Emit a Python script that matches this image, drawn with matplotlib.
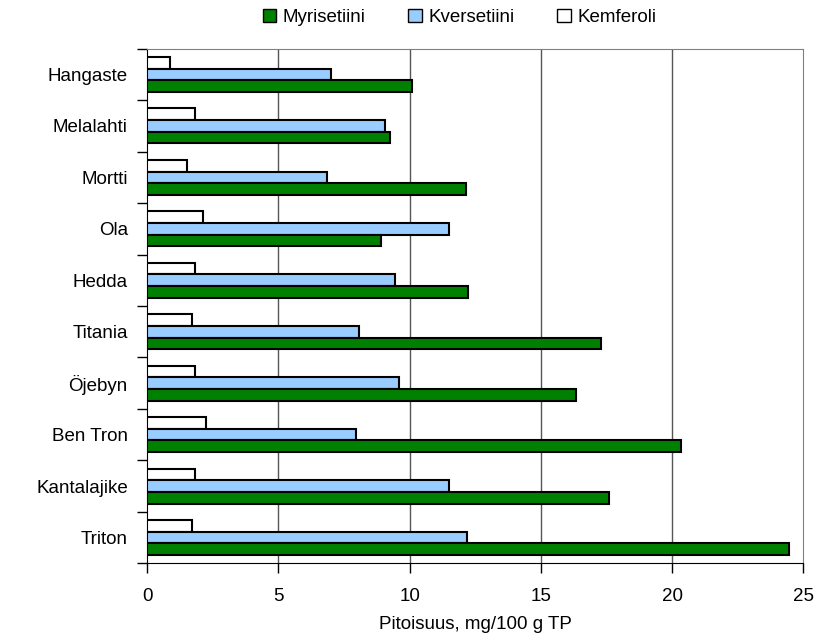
import matplotlib
matplotlib.use("Agg")
import matplotlib.pyplot as plt
from matplotlib.patches import Patch
import numpy as np

categories = ["Hangaste", "Melalahti", "Mortti", "Ola", "Hedda", "Titania",
              "Öjebyn", "Ben Tron", "Kantalajike", "Triton"]
myrisetiini = [10.1, 9.25, 12.15, 8.9, 12.22, 17.3, 16.35, 20.35, 17.6, 24.45]
kversetiini = [7.0, 9.05, 6.85, 11.5, 9.45, 8.06, 9.6, 7.95, 11.5, 12.2]
kemferoli = [0.88, 1.8, 1.5, 2.14, 1.83, 1.7, 1.83, 2.25, 1.8, 1.7]
series_names = ["Myrisetiini", "Kversetiini", "Kemferoli"]
colors = ["#008000", "#99CCFF", "#FFFFFF"]
xticks = [0, 5, 10, 15, 20, 25]
xlabel = "Pitoisuus, mg/100 g TP"

plt.rcParams["font.family"] = ["Liberation Sans", "DejaVu Sans"]
FS = 13.5

fig = plt.figure(figsize=(8.16, 6.34), dpi=100)
ax = fig.add_axes([0.1805, 0.1115, 0.9844 - 0.1805, 0.9232 - 0.1115])

y = np.arange(len(categories))
h = 0.227
ax.barh(y - h, kemferoli, height=h, color=colors[2], edgecolor="black", linewidth=1.5, zorder=3)
ax.barh(y, kversetiini, height=h, color=colors[1], edgecolor="black", linewidth=1.5, zorder=3)
ax.barh(y + h, myrisetiini, height=h, color=colors[0], edgecolor="black", linewidth=1.5, zorder=3)

ax.set_xlim(0, 25)
ax.set_ylim(len(categories) - 0.5, -0.5)
ax.set_xticks(xticks)
ax.set_xticklabels([str(t) for t in xticks], fontsize=FS)
ax.tick_params(axis="x", length=7, width=1, pad=11, direction="out")

ax.set_yticks(np.arange(-0.5, len(categories), 1.0))
ax.set_yticklabels([])
ax.tick_params(axis="y", which="major", length=7, width=1, direction="out")
ax.set_yticks(y, minor=True)
ax.set_yticklabels(categories, minor=True, fontsize=FS)
ax.tick_params(axis="y", which="minor", length=0, pad=14)

for xv in xticks[1:-1]:
    ax.axvline(xv, color="#555555", linewidth=1, zorder=1)

ax.spines["left"].set_color("black")
ax.spines["bottom"].set_color("black")
ax.spines["top"].set_color("#808080")
ax.spines["right"].set_color("#808080")

ax.set_xlabel(xlabel, fontsize=FS, labelpad=8)

handles = [Patch(facecolor=c, edgecolor="black", linewidth=1) for c in colors]
fig.legend(handles, series_names, loc="center", bbox_to_anchor=(0.563, 0.972), ncol=3,
           frameon=False, fontsize=FS, handlelength=0.7, handleheight=0.7,
           handletextpad=0.35, columnspacing=2.3)

fig.savefig("out.png", dpi=100)
